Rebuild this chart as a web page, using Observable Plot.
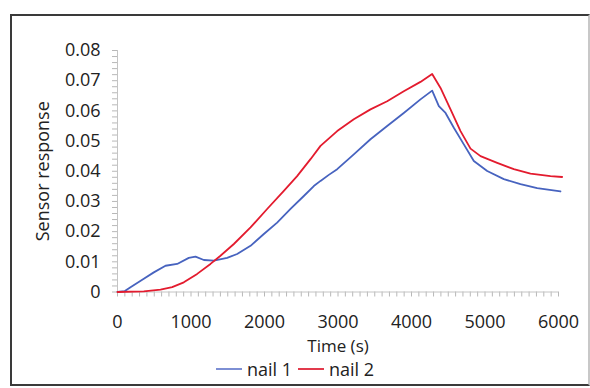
<!DOCTYPE html>
<html>
<head>
<meta charset="utf-8">
<script src="https://cdn.jsdelivr.net/npm/d3@7"></script>
<script src="https://cdn.jsdelivr.net/npm/@observablehq/plot@0.6"></script>
<style>
  html, body { margin: 0; padding: 0; background: #fff; }
  #wrap { position: relative; width: 590px; height: 388px; overflow: hidden; font-family: "Open Sans", sans-serif; }
  #frame { position: absolute; left: 10px; top: 14px; width: 576px; height: 368px; border: 2px solid #3a3a3a; border-right-color: #c8c8c8; }
  #chart { position: absolute; left: 0; top: 0; }
  #legend { position: absolute; left: 0; top: 358px; width: 590px; display: flex; justify-content: center; align-items: center; font-size: 18px; line-height: 22px; color: #222; gap: 6px; }
  .sw { display: inline-block; width: 26px; height: 2px; margin-right: 5px; }
</style>
</head>
<body>
<div id="wrap">
  <div id="frame"></div>
  <div id="chart"></div>
  <div id="legend"></div>
</div>
<script>
// Series data
const nail1Time = [0, 100, 177, 358, 494, 653, 812, 970, 1061, 1175, 1311, 1492, 1628, 1810, 1991, 2172, 2354, 2535, 2671, 2762, 2875, 2989, 3215, 3442, 3669, 3895, 4122, 4281, 4372, 4463, 4576, 4712, 4848, 5030, 5256, 5483, 5710, 6027];
const nail1Value = [0, 0.0003, 0.0016, 0.0044, 0.0065, 0.0087, 0.0093, 0.0113, 0.0117, 0.0106, 0.0104, 0.0113, 0.0126, 0.0153, 0.0192, 0.0230, 0.0275, 0.0318, 0.0351, 0.0368, 0.0388, 0.0407, 0.0456, 0.0506, 0.0550, 0.0593, 0.0638, 0.0667, 0.0616, 0.0593, 0.0544, 0.0489, 0.0434, 0.0401, 0.0374, 0.0357, 0.0344, 0.0333];
const nail2Time = [0, 358, 585, 744, 902, 1084, 1265, 1401, 1583, 1810, 2036, 2263, 2444, 2626, 2762, 2989, 3215, 3442, 3669, 3895, 4122, 4281, 4395, 4531, 4667, 4803, 4939, 5166, 5392, 5619, 5891, 6050];
const nail2Value = [0, 0.0002, 0.0008, 0.0016, 0.0032, 0.0060, 0.0093, 0.0120, 0.0159, 0.0214, 0.0275, 0.0335, 0.0384, 0.0440, 0.0484, 0.0533, 0.0572, 0.0605, 0.0632, 0.0665, 0.0696, 0.0722, 0.0676, 0.0605, 0.0533, 0.0475, 0.0450, 0.0428, 0.0407, 0.0392, 0.0384, 0.0381];

const seriesNames = ["nail 1", "nail 2"];
const seriesColors = ["#4763bf", "#e31b2e"];
const legendColors = ["#7d8fd4", "#e23a4c"];

const xTicks = [0, 1000, 2000, 3000, 4000, 5000, 6000];
const yTicks = [0, 0.01, 0.02, 0.03, 0.04, 0.05, 0.06, 0.07, 0.08];
const yTickLabels = ["0", "0.01", "0.02", "0.03", "0.04", "0.05", "0.06", "0.07", "0.08"];
const xTitle = "Time (s)";
const yTitle = "Sensor response";

const rows = [
  ...nail1Time.map((t, i) => ({series: seriesNames[0], t, v: nail1Value[i]})),
  ...nail2Time.map((t, i) => ({series: seriesNames[1], t, v: nail2Value[i]}))
];

const xMinor = d3.range(0, 6001, 100);
const yMinor = d3.range(0, 0.0801, 0.002);

const chart = Plot.plot({
  width: 590,
  height: 350,
  marginLeft: 117,
  marginRight: 32,
  marginTop: 50,
  marginBottom: 58.5,
  style: {fontFamily: "Open Sans, sans-serif", fontSize: "18px", color: "#222", background: "transparent", overflow: "visible"},
  x: {domain: [0, 6000]},
  y: {domain: [0, 0.08]},
  color: {domain: seriesNames, range: seriesColors},
  marks: [
    Plot.axisX({ticks: xMinor, tickSize: 5, tickFormat: null, stroke: "#b8b8b8", strokeWidth: 1, label: null, text: null}),
    Plot.axisY({ticks: yMinor, tickSize: 5, tickFormat: null, stroke: "#b8b8b8", strokeWidth: 1, label: null, text: null}),
    Plot.axisX({ticks: xTicks, tickSize: 0, tickPadding: 23, tickFormat: d => String(d), label: null, fill: "#222"}),
    Plot.axisY({ticks: yTicks, tickSize: 0, tickPadding: 17, tickFormat: (d, i) => yTickLabels[i], label: null, fill: "#222"}),
    Plot.ruleX([0], {stroke: "#c4c4c4", strokeWidth: 1}),
    Plot.ruleY([0], {stroke: "#c4c4c4", strokeWidth: 1}),
    Plot.line(rows, {x: "t", y: "v", z: "series", stroke: "series", strokeWidth: 1.8, clip: false}),
    Plot.text([xTitle], {frameAnchor: "bottom", dy: 55, lineAnchor: "middle", textAnchor: "middle", fontSize: 17, fill: "#222"}),
    Plot.text([yTitle], {frameAnchor: "left", dx: -74, rotate: -90, textAnchor: "middle", lineAnchor: "middle", fontSize: 18, fill: "#222"})
  ]
});
document.getElementById("chart").appendChild(chart);

const legend = document.getElementById("legend");
seriesNames.forEach((name, i) => {
  const item = document.createElement("span");
  item.style.display = "inline-flex";
  item.style.alignItems = "center";
  const sw = document.createElement("span");
  sw.className = "sw";
  sw.style.background = legendColors[i];
  item.appendChild(sw);
  item.appendChild(document.createTextNode(name));
  legend.appendChild(item);
});
</script>
</body>
</html>
